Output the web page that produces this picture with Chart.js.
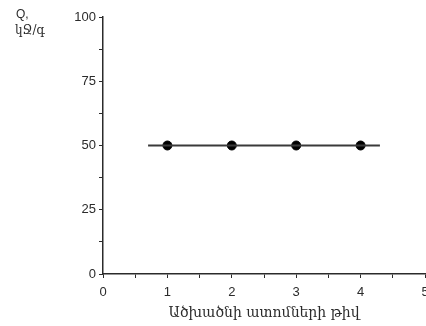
<!DOCTYPE html>
<html>
<head>
<meta charset="utf-8">
<script src="https://cdn.jsdelivr.net/npm/chart.js@4/dist/chart.umd.min.js"></script>
<style>
  html, body { margin: 0; padding: 0; background: #fff; }
  #wrap { width: 426px; height: 326px; }
</style>
</head>
<body>
<div id="wrap"><canvas id="heat" width="426" height="326"></canvas></div>
<script>
// number of carbon atoms vs. heat value
const carbonAtoms = [1, 2, 3, 4];
const heatValues = [50, 50, 50, 50];
// fitted line drawn across the points
const fitX = [0.7, 4.3];
const fitY = [50, 50];
// axis ranges (labels on majors, unlabeled minors between)
const xRange = [0, 5];
const yRange = [0, 100];
const xTitle = 'Ածխածնի ատոմների թիվ';
const yTitle = ['Q,', 'կՋ/գ'];

const ink = '#2b2b2b';
const fontFamily = '"Liberation Sans", Arial, "DejaVu Sans", sans-serif';
const armFont = '"DejaVu Serif", "Noto Sans", serif';
const noPad = () => ({ left: 0, top: 0, right: 0, bottom: 0 });

// the last x label is allowed to run off the canvas like in the original
function dropLabelPadding(scale) {
  scale._calculatePadding = function () {
    this.paddingLeft = this.paddingRight = this.paddingTop = this.paddingBottom = 0;
  };
  scale.getPadding = noPad;
}

// y title sits in the top-left corner, not rotated
const cornerTitle = {
  id: 'cornerTitle',
  afterDraw(chart) {
    const ctx = chart.ctx;
    ctx.save();
    ctx.fillStyle = ink;
    ctx.textBaseline = 'middle';
    ctx.font = '12px ' + fontFamily;
    ctx.fillText(yTitle[0], 16, 15);
    ctx.font = '12px ' + armFont;
    ctx.fillText(yTitle[1], 15, 31);
    ctx.restore();
  }
};

new Chart(document.getElementById('heat').getContext('2d'), {
  type: 'scatter',
  data: {
    datasets: [{
      type: 'line',
      data: fitX.map((x, i) => ({ x: x, y: fitY[i] })),
      borderColor: '#3a3a3a',
      borderWidth: 2,
      pointRadius: 0,
      fill: false
    }, {
      data: carbonAtoms.map((x, i) => ({ x: x, y: heatValues[i] })),
      backgroundColor: '#000',
      borderColor: '#000',
      pointRadius: 4.5,
      pointHoverRadius: 4.5
    }]
  },
  options: {
    responsive: false,
    animation: false,
    layout: { autoPadding: false, padding: { top: 17, right: 1, left: 0, bottom: 0 } },
    plugins: { legend: { display: false }, tooltip: { enabled: false } },
    scales: {
      x: {
        type: 'linear',
        min: xRange[0],
        max: xRange[1],
        border: { display: true, color: ink, width: 1.5 },
        grid: { drawOnChartArea: false, drawTicks: true, tickLength: 4, color: ink },
        ticks: {
          stepSize: 0.5,
          autoSkip: false,
          maxRotation: 0,
          padding: 7,
          color: ink,
          font: { family: fontFamily, size: 13 },
          callback: v => Number.isInteger(v) ? String(v) : ''
        },
        title: {
          display: true,
          text: xTitle,
          color: ink,
          padding: { top: 0, bottom: 4 },
          font: { family: armFont, size: 14 }
        },
        beforeUpdate: dropLabelPadding,
        afterFit(scale) {
          scale.height = 52;
        }
      },
      y: {
        min: yRange[0],
        max: yRange[1],
        border: { display: true, color: ink, width: 1.5 },
        grid: { drawOnChartArea: false, drawTicks: true, tickLength: 4, color: ink },
        ticks: {
          stepSize: 12.5,
          autoSkip: false,
          padding: 3,
          color: ink,
          font: { family: fontFamily, size: 13 },
          callback: v => v % 25 === 0 ? String(v) : ''
        },
        beforeUpdate: dropLabelPadding,
        afterFit(scale) {
          scale.width = 103;
        }
      }
    }
  },
  plugins: [cornerTitle]
});
</script>
</body>
</html>
